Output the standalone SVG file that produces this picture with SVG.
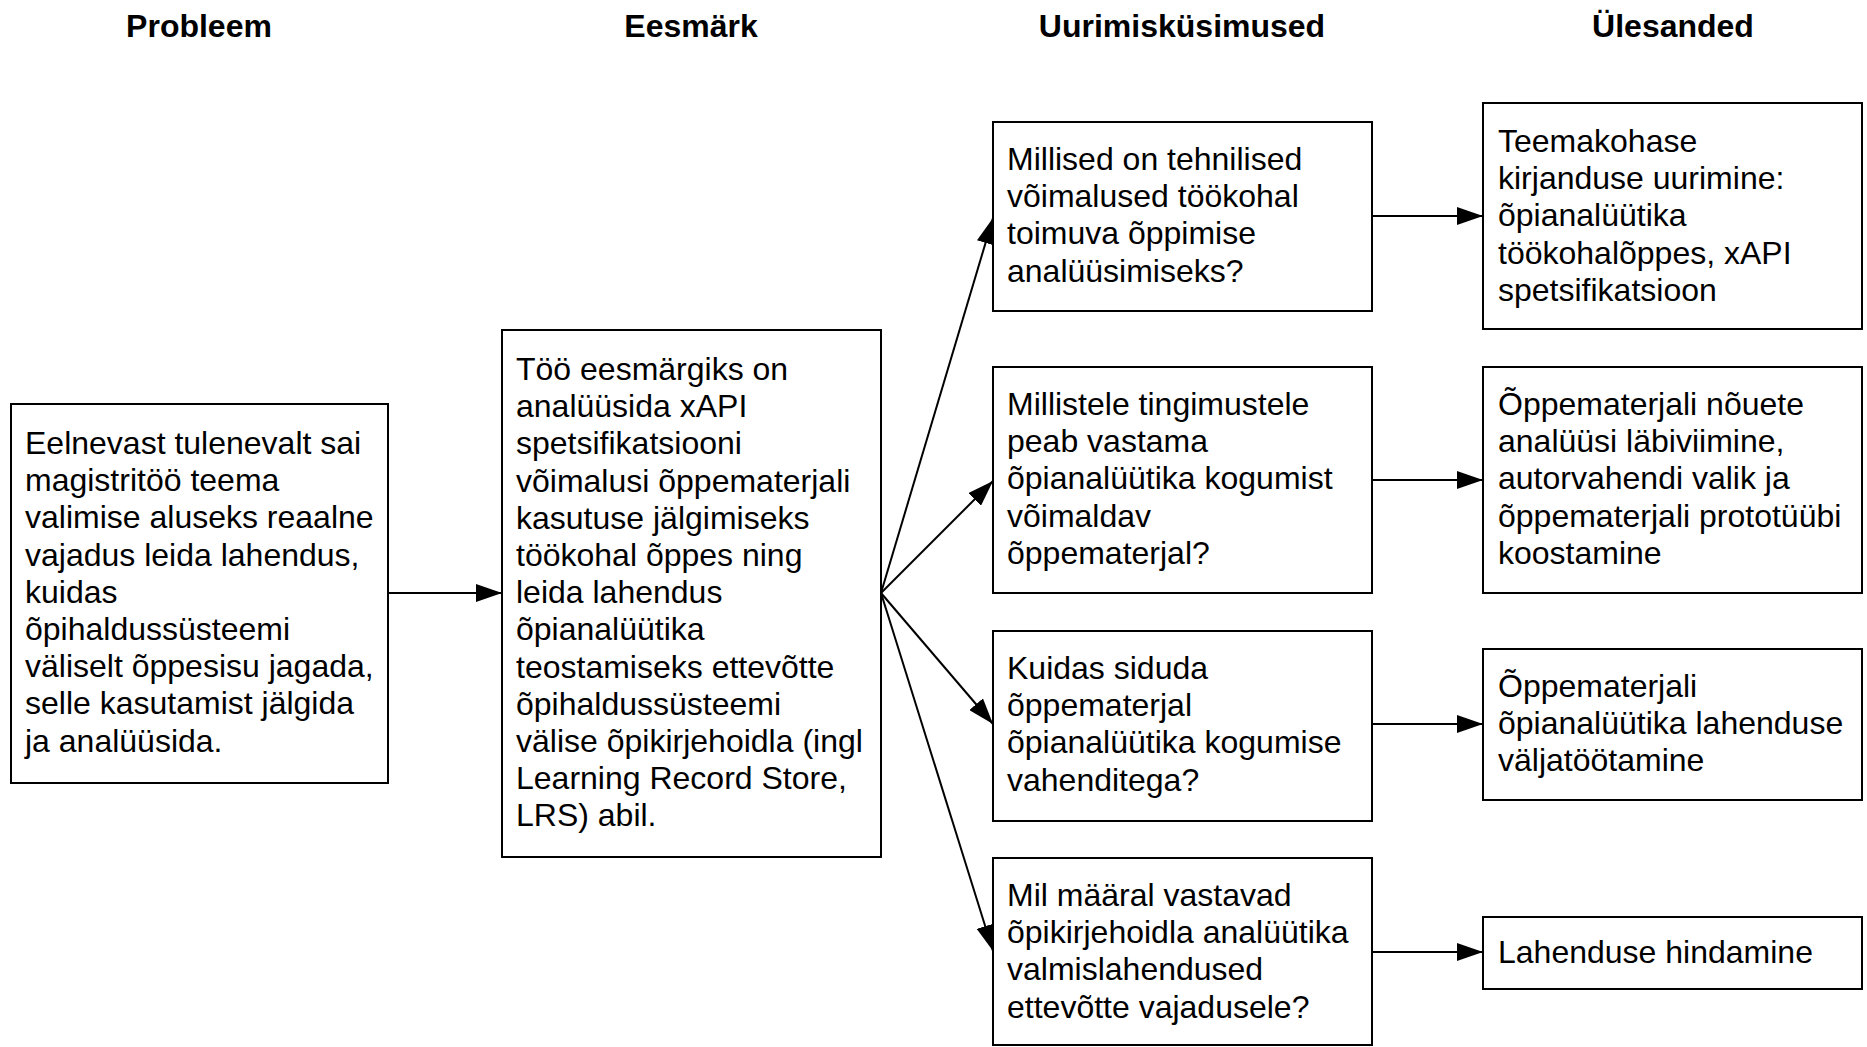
<svg xmlns="http://www.w3.org/2000/svg" width="1867" height="1047" viewBox="0 0 1867 1047">
<defs>
<style>
.box{fill:#fff;stroke:#000;stroke-width:2}
.t{font-family:"Liberation Sans",Arial,Helvetica,sans-serif;font-size:32px;fill:#000}
.h{font-family:"Liberation Sans",Arial,Helvetica,sans-serif;font-size:32px;font-weight:bold;fill:#000;text-anchor:middle}
.c{stroke:#000;stroke-width:2;fill:none;marker-end:url(#ah)}
</style>
<marker id="ah" markerUnits="userSpaceOnUse" markerWidth="26" markerHeight="18" refX="26" refY="9" orient="auto">
<path d="M0,0 L26,9 L0,18 z" fill="#000"/>
</marker>
</defs>
<rect width="1867" height="1047" fill="#fff"/>
<g id="headers">
<text class="h" x="199" y="37">Probleem</text>
<text class="h" x="691" y="37">Eesmärk</text>
<text class="h" x="1182" y="37">Uurimisküsimused</text>
<text class="h" x="1673" y="37">Ülesanded</text>
</g>
<g id="connectors">
<line class="c" x1="388" y1="593" x2="502" y2="593"/>
<line class="c" x1="881" y1="593" x2="993" y2="218"/>
<line class="c" x1="881" y1="593" x2="993" y2="481"/>
<line class="c" x1="881" y1="593" x2="993" y2="724"/>
<line class="c" x1="881" y1="593" x2="993" y2="951"/>
<line class="c" x1="1372" y1="216" x2="1483" y2="216"/>
<line class="c" x1="1372" y1="480" x2="1483" y2="480"/>
<line class="c" x1="1372" y1="724" x2="1483" y2="724"/>
<line class="c" x1="1372" y1="952" x2="1483" y2="952"/>
</g>
<g id="probleem">
<rect class="box" x="11" y="404" width="377" height="379"/>
<text class="t" x="25" y="454"><tspan x="25">Eelnevast tulenevalt sai</tspan><tspan x="25" dy="37.2">magistritöö teema</tspan><tspan x="25" dy="37.2">valimise aluseks reaalne</tspan><tspan x="25" dy="37.2">vajadus leida lahendus,</tspan><tspan x="25" dy="37.2">kuidas</tspan><tspan x="25" dy="37.2">õpihaldussüsteemi</tspan><tspan x="25" dy="37.2">väliselt õppesisu jagada,</tspan><tspan x="25" dy="37.2">selle kasutamist jälgida</tspan><tspan x="25" dy="37.2">ja analüüsida.</tspan></text>
</g>
<g id="eesmark">
<rect class="box" x="502" y="330" width="379" height="527"/>
<text class="t" x="516" y="380"><tspan x="516">Töö eesmärgiks on</tspan><tspan x="516" dy="37.2">analüüsida xAPI</tspan><tspan x="516" dy="37.2">spetsifikatsiooni</tspan><tspan x="516" dy="37.2">võimalusi õppematerjali</tspan><tspan x="516" dy="37.2">kasutuse jälgimiseks</tspan><tspan x="516" dy="37.2">töökohal õppes ning</tspan><tspan x="516" dy="37.2">leida lahendus</tspan><tspan x="516" dy="37.2">õpianalüütika</tspan><tspan x="516" dy="37.2">teostamiseks ettevõtte</tspan><tspan x="516" dy="37.2">õpihaldussüsteemi</tspan><tspan x="516" dy="37.2">välise õpikirjehoidla (ingl</tspan><tspan x="516" dy="37.2">Learning Record Store,</tspan><tspan x="516" dy="37.2">LRS) abil.</tspan></text>
</g>
<g id="rq1">
<rect class="box" x="993" y="122" width="379" height="189"/>
<text class="t" x="1007" y="170"><tspan x="1007">Millised on tehnilised</tspan><tspan x="1007" dy="37.2">võimalused töökohal</tspan><tspan x="1007" dy="37.2">toimuva õppimise</tspan><tspan x="1007" dy="37.2">analüüsimiseks?</tspan></text>
</g>
<g id="rq2">
<rect class="box" x="993" y="367" width="379" height="226"/>
<text class="t" x="1007" y="415"><tspan x="1007">Millistele tingimustele</tspan><tspan x="1007" dy="37.2">peab vastama</tspan><tspan x="1007" dy="37.2">õpianalüütika kogumist</tspan><tspan x="1007" dy="37.2">võimaldav</tspan><tspan x="1007" dy="37.2">õppematerjal?</tspan></text>
</g>
<g id="rq3">
<rect class="box" x="993" y="631" width="379" height="190"/>
<text class="t" x="1007" y="679"><tspan x="1007">Kuidas siduda</tspan><tspan x="1007" dy="37.2">õppematerjal</tspan><tspan x="1007" dy="37.2">õpianalüütika kogumise</tspan><tspan x="1007" dy="37.2">vahenditega?</tspan></text>
</g>
<g id="rq4">
<rect class="box" x="993" y="858" width="379" height="187"/>
<text class="t" x="1007" y="906"><tspan x="1007">Mil määral vastavad</tspan><tspan x="1007" dy="37.2">õpikirjehoidla analüütika</tspan><tspan x="1007" dy="37.2">valmislahendused</tspan><tspan x="1007" dy="37.2">ettevõtte vajadusele?</tspan></text>
</g>
<g id="t1">
<rect class="box" x="1483" y="103" width="379" height="226"/>
<text class="t" x="1498" y="152"><tspan x="1498">Teemakohase</tspan><tspan x="1498" dy="37.2">kirjanduse uurimine:</tspan><tspan x="1498" dy="37.2">õpianalüütika</tspan><tspan x="1498" dy="37.2">töökohalõppes, xAPI</tspan><tspan x="1498" dy="37.2">spetsifikatsioon</tspan></text>
</g>
<g id="t2">
<rect class="box" x="1483" y="367" width="379" height="226"/>
<text class="t" x="1498" y="415"><tspan x="1498">Õppematerjali nõuete</tspan><tspan x="1498" dy="37.2">analüüsi läbiviimine,</tspan><tspan x="1498" dy="37.2">autorvahendi valik ja</tspan><tspan x="1498" dy="37.2">õppematerjali prototüübi</tspan><tspan x="1498" dy="37.2">koostamine</tspan></text>
</g>
<g id="t3">
<rect class="box" x="1483" y="649" width="379" height="151"/>
<text class="t" x="1498" y="697"><tspan x="1498">Õppematerjali</tspan><tspan x="1498" dy="37.2">õpianalüütika lahenduse</tspan><tspan x="1498" dy="37.2">väljatöötamine</tspan></text>
</g>
<g id="t4">
<rect class="box" x="1483" y="917" width="379" height="72"/>
<text class="t" x="1498" y="963">Lahenduse hindamine</text>
</g>
</svg>
